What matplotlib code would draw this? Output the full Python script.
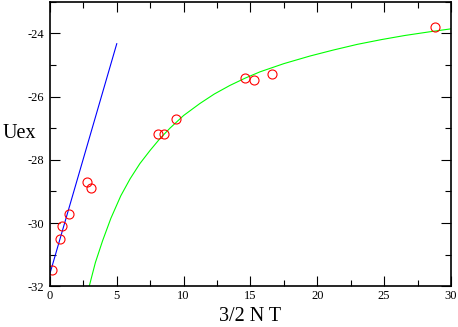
import matplotlib
matplotlib.use('Agg')
import matplotlib.pyplot as plt
from matplotlib.ticker import MultipleLocator

# measured points (3/2 N T, Uex)
nt = [0.15, 0.75, 0.92, 1.42, 2.77, 3.04, 8.08, 8.55, 9.4, 14.6, 15.26, 16.58, 28.8]
uex = [-31.48, -30.5, -30.1, -29.7, -28.7, -28.9, -27.2, -27.2, -26.7,
       -25.4, -25.49, -25.29, -23.8]

# low-T straight line (end points)
lin_x = [0.0, 5.0]
lin_y = [-31.6, -24.33]

# green curve
fit_x = [2.94, 3.4, 3.94, 4.56, 5.3, 6.0, 6.73, 7.5, 8.23, 8.98, 10.0, 11.22, 12.3,
         13.46, 14.6, 15.71, 17.5, 19.45, 21.2, 23.0, 24.8, 26.55, 28.3, 30.0]
fit_y = [-32.0, -31.25, -30.56, -29.85, -29.14, -28.6, -28.12, -27.7, -27.33, -27.0,
         -26.6, -26.22, -25.92, -25.65, -25.42, -25.22, -24.96, -24.72, -24.53,
         -24.35, -24.2, -24.07, -23.96, -23.86]

plt.rcParams['font.family'] = ['Liberation Serif', 'DejaVu Serif']
plt.rcParams['axes.unicode_minus'] = False

fig = plt.figure(figsize=(4.58, 3.27), dpi=100)
ax = fig.add_axes([0.109, 0.1245, 0.8757, 0.8705])

ax.plot(lin_x, lin_y, color='#0000ff', lw=0.8)
ax.plot(fit_x, fit_y, color='#00ff00', lw=0.8)
ax.plot(nt, uex, 'o', ms=6.5, mfc='none', mec='#ff0000', mew=0.8)

ax.set_xlim(0, 30)
ax.set_ylim(-32, -23)
ax.xaxis.set_major_locator(MultipleLocator(5))
ax.xaxis.set_minor_locator(MultipleLocator(2.5))
ax.yaxis.set_major_locator(MultipleLocator(2))
ax.yaxis.set_minor_locator(MultipleLocator(1))
ax.tick_params(which='both', direction='in', top=True, right=True, width=0.8,
               labelsize=9, colors='black')
ax.tick_params(which='major', length=7.5)
ax.tick_params(which='minor', length=4)
ax.tick_params(axis='x', pad=3)
ax.tick_params(axis='y', pad=4)
for s in ax.spines.values():
    s.set_linewidth(1.2)

ax.set_xlabel('3/2 N T', fontsize=14.5, va='center')
ax.xaxis.set_label_coords(0.5, -0.106)
ax.set_ylabel('Uex', fontsize=14.5, rotation=0, ha='center', va='center')
ax.yaxis.set_label_coords(-0.077, 0.538)

fig.savefig('out.png', dpi=100)
